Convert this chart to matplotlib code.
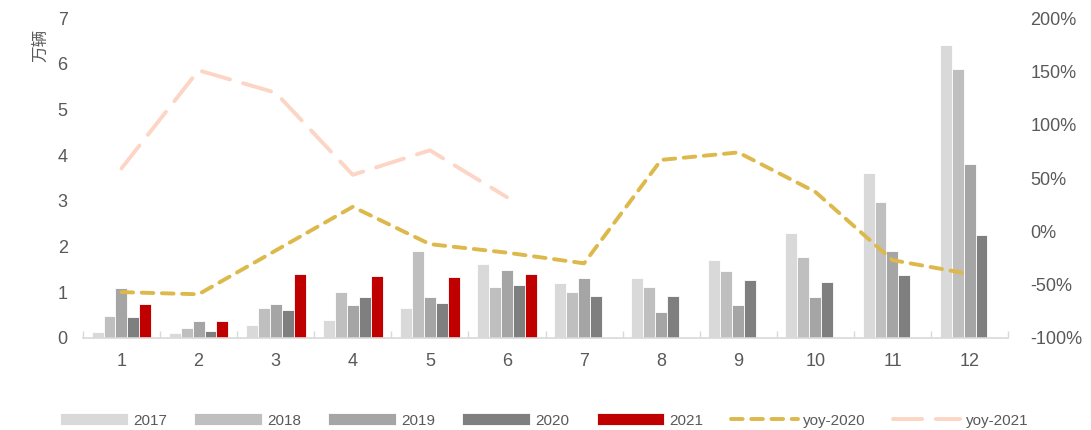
import numpy as np
import matplotlib.pyplot as plt
from matplotlib.ticker import FuncFormatter

plt.rcParams['font.family'] = ['Liberation Sans', 'Noto Sans CJK SC', 'DejaVu Sans']

months = [str(m) for m in range(1, 13)]
years = ['2017', '2018', '2019', '2020', '2021']

# monthly sales, 10k vehicles
sales_2017 = [0.13, 0.11, 0.28, 0.39, 0.66, 1.62, 1.20, 1.31, 1.71, 2.30, 3.61, 6.42]
sales_2018 = [0.48, 0.22, 0.66, 1.01, 1.90, 1.12, 1.01, 1.12, 1.47, 1.77, 2.98, 5.89]
sales_2019 = [1.09, 0.37, 0.74, 0.72, 0.90, 1.49, 1.31, 0.57, 0.72, 0.90, 1.90, 3.81]
sales_2020 = [0.46, 0.15, 0.61, 0.90, 0.77, 1.16, 0.92, 0.92, 1.27, 1.23, 1.38, 2.25]
sales_2021 = [0.74, 0.37, 1.40, 1.36, 1.33, 1.40]

# year-on-year growth, %
yoy_2020 = [-57, -59, -18, 23, -12, -20, -30, 67, 74, 37, -27, -40]
yoy_2021 = [59, 151, 130, 53, 76, 32]

bar_colors = ['#D9D9D9', '#BFBFBF', '#A5A5A5', '#7F7F7F', '#C00000']
txt = '#595959'

fig = plt.figure(figsize=(10.91, 4.30), dpi=100)
ax = fig.add_axes([0.076, 0.214, 0.848, 0.744])
ax2 = ax.twinx()

x = np.arange(1, 13)
w = 0.155
series = [sales_2017, sales_2018, sales_2019, sales_2020, sales_2021]
handles = []
for k, (vals, c, lab) in enumerate(zip(series, bar_colors, years)):
    xs = x[:len(vals)] + (k - 2) * w
    b = ax.bar(xs, vals, width=w, color=c, edgecolor='white', linewidth=0.6, label=lab, zorder=2)
    handles.append(b)

l1, = ax2.plot(x, yoy_2020, color='#DDB84A', lw=2.8, dashes=(3, 2.2), label='yoy-2020',
               dash_capstyle='round')
l2, = ax2.plot(x[:len(yoy_2021)], yoy_2021, color='#FCD5C5', lw=2.8, dashes=(7.5, 3.5),
               label='yoy-2021', dash_capstyle='round')
handles += [l1, l2]

ax.set_xlim(0.5, 12.5)
ax.set_ylim(0, 7)
ax2.set_ylim(-100, 200)
ax.set_yticks(range(0, 8))
ax2.set_yticks(range(-100, 201, 50))
ax2.yaxis.set_major_formatter(FuncFormatter(lambda v, p: f'{int(v)}%'))

ax.set_xticks(x)
ax.set_xticklabels(months)
ax.set_xticks(np.arange(0.5, 12.6, 1), minor=True)
ax.tick_params(axis='x', which='major', length=0, pad=11, labelsize=13, labelcolor=txt)
ax.tick_params(axis='x', which='minor', length=5, direction='in', color='#D9D9D9', width=1)
ax.tick_params(axis='y', length=0, pad=11, labelsize=13, labelcolor=txt)
ax2.tick_params(axis='y', length=0, pad=16, labelsize=13, labelcolor=txt)

for a in (ax, ax2):
    for s in ['top', 'left', 'right']:
        a.spines[s].set_visible(False)
ax2.spines['bottom'].set_visible(False)
ax.spines['bottom'].set_color('#D9D9D9')
ax.spines['bottom'].set_linewidth(1.2)

fig.text(0.037, 0.895, '万辆', rotation=90, ha='center', va='center', color=txt,
         fontsize=12, family=['Noto Sans CJK SC', 'DejaVu Sans'])

fig.legend(handles=handles, labels=years + ['yoy-2020', 'yoy-2021'], loc='center',
           bbox_to_anchor=(0.499, 0.022), ncol=7, frameon=False, fontsize=11,
           handlelength=4.4, handleheight=0.8, handletextpad=0.35, columnspacing=1.8,
           labelcolor=txt)

fig.savefig('out.png', dpi=100)
